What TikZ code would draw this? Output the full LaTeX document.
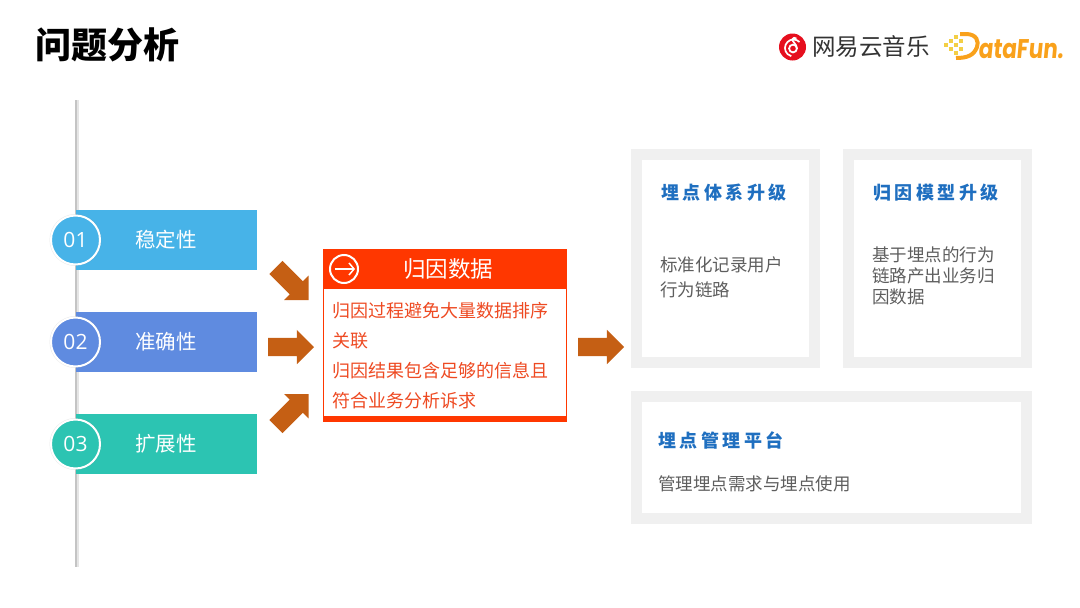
\documentclass[tikz,border=0pt]{standalone}
\usepackage{fontspec}
\setmainfont{Noto Sans CJK SC}
\newfontfamily\spacedfont[LetterSpace=20]{Noto Sans CJK SC}
\newfontfamily\numfont{Open Sans}
\newfontfamily\logofont{Poppins}
\usetikzlibrary{arrows.meta,positioning,shapes.arrows,shadows}
\definecolor{skybar}{HTML}{47B3E8}
\definecolor{bluebar}{HTML}{5F8BE0}
\definecolor{tealbar}{HTML}{2CC4B2}
\definecolor{redhead}{HTML}{FF3700}
\definecolor{redtext}{HTML}{EE4A22}
\definecolor{rust}{HTML}{C55F14}
\definecolor{panelgray}{HTML}{F0F0F0}
\definecolor{bluetitle}{HTML}{1F6FC0}
\definecolor{graytext}{HTML}{5E5E5E}
\definecolor{logored}{HTML}{E60F1E}
\definecolor{logoorange}{HTML}{F9A11B}
\definecolor{logoyellow}{HTML}{F3CF45}
\begin{document}
\begin{tikzpicture}[
  x=1pt,y=-1pt,
  >=Stealth,
  every node/.style={inner sep=0pt,outer sep=0pt},
  bar/.style={minimum width=181pt,minimum height=60pt,anchor=west,text=white,font=\fontsize{20.5}{24}\selectfont},
  num/.style={circle,draw=white,line width=2pt,minimum size=49pt,text=white,font=\numfont\fontsize{21}{24}\selectfont,drop shadow={shadow xshift=0pt,shadow yshift=0pt,shadow scale=1.06,opacity=.18}},
  blockarrow/.style={single arrow,fill=rust,inner sep=9pt,minimum width=34pt,minimum height=46pt,single arrow head extend=8pt,anchor=tip},
  panel/.style={draw=panelgray,line width=11pt,fill=white,anchor=north west},
  paneltitle/.style={anchor=west,text=bluetitle,font=\spacedfont\bfseries\fontsize{18}{22}\selectfont},
  paneltext/.style={anchor=west,align=left,text=graytext},
  redline/.style={anchor=west,text=redtext,font=\fontsize{18}{30}\selectfont}
]
\useasboundingbox (0,0) rectangle (1080,608);
\node[anchor=west,font=\bfseries\fontsize{36}{40}\selectfont] (title) at (35,45) {问题分析};
% logos
\node[circle,fill=logored,minimum size=27pt] (neicon) at (792.5,47) {};
\draw[white,line width=1.8pt] (793,48.5) circle (3.9);
\draw[white,line width=1.7pt] (799.5,42) arc (-45:-255:8.5);
\draw[white,line width=1.7pt] (796.9,48.5) .. controls (797,44) and (792,42) .. (792.5,39) .. controls (793,37.5) and (795,37.5) .. (796.5,38.5);
\node[anchor=west,text=black!80,font=\fontsize{23.5}{26}\selectfont] (nename) at (812,47) {网易云音乐};
\foreach \px/\py/\pn in {946/45/a,951/41/b,951/49/c,956/37/d,956/45/e,956/53/f,961/41/g,961/49/h}
  \node[fill=logoyellow,minimum size=3.6pt] (dot\pn) at (\px,\py) {};
\draw[logoorange,line width=4pt] (960,34) -- (966,34) .. controls (977,34) and (979,42) .. (977,47) .. controls (974,55) and (968,58) .. (956,58);
\node[anchor=west,text=logoorange,font=\logofont\bfseries\fontsize{27}{30}\selectfont,xscale=.8,xslant=.12] (dfname) at (979,49) {ataFun.};
% left column
\draw[black!10,line width=2.5pt] (77.5,100) coordinate (railtop) -- (77.5,567) coordinate (railend);
\draw[black!23,line width=1.5pt] (railtop -| 76,0) -- (railend -| 76,0);
\node[bar,fill=skybar] (s1) at (76,240) {\hspace*{-1pt}稳定性};
\node[bar,fill=bluebar] (s2) at (76,342) {\hspace*{-1pt}准确性};
\node[bar,fill=tealbar] (s3) at (76,444) {\hspace*{-1pt}扩展性};
\node[num,fill=skybar] (n1) at (75.5,240) {01};
\node[num,fill=bluebar] (n2) at (75.5,342) {02};
\node[num,fill=tealbar] (n3) at (75.5,444) {03};
\node[blockarrow,rotate=-45] (a1) at (308.5,300) {};
\node[blockarrow] (a2) at (314,347) {};
\node[blockarrow,rotate=45] (a3) at (308.5,394) {};
% red box
\node[draw=redhead,line width=1pt,fill=white,minimum width=243pt,minimum height=172pt,anchor=north west] (box) at (323.5,249.5) {};
\node[fill=redhead,minimum width=244pt,minimum height=40pt,anchor=north west] (boxhead) at (323,249) {};
\node[fill=redhead,minimum width=244pt,minimum height=6pt,anchor=north west] (boxfoot) at (323,416) {};
\node[text=white,font=\fontsize{22.5}{26}\selectfont] (boxtitle) at (448,269) {归因数据};
\node[circle,draw=white,line width=2pt,minimum size=28pt] (icon) at (344,269) {};
\coordinate (iconl) at (334.5,269);
\coordinate (iconr) at (355,269);
\draw[white,line width=1.5pt,-{Straight Barb[length=5pt,width=12pt]}] (iconl) -- (iconr);
\node[redline] (r1) at (332,311) {归因过程避免大量数据排序};
\node[redline] (r2) at (332,341) {关联};
\node[redline] (r3) at (332,371) {归因结果包含足够的信息且};
\node[redline] (r4) at (332,401) {符合业务分析诉求};
\node[blockarrow] (a4) at (624,347) {};
% right panels
\node[panel,minimum width=178pt,minimum height=208pt] (p1) at (636.5,154.5) {};
\node[panel,minimum width=178pt,minimum height=208pt] (p2) at (848.5,154.5) {};
\node[panel,minimum width=390pt,minimum height=122pt] (p3) at (636.5,396.5) {};
\node[paneltitle] (t1) at (661,192.5) {埋点体系升级};
\node[paneltitle] (t2) at (873,192.5) {归因模型升级};
\node[paneltitle] (t3) at (658,440.5) {埋点管理平台};
\node[paneltext,font=\fontsize{17.5}{25}\selectfont] (d1) at (660,277) {标准化记录用户\\行为链路};
\node[paneltext,font=\fontsize{17.5}{21}\selectfont] (d2) at (872,276) {基于埋点的行为\\链路产出业务归\\因数据};
\node[paneltext,font=\fontsize{17.5}{21}\selectfont] (d3) at (658,483.5) {管理埋点需求与埋点使用};
\end{tikzpicture}
\end{document}
